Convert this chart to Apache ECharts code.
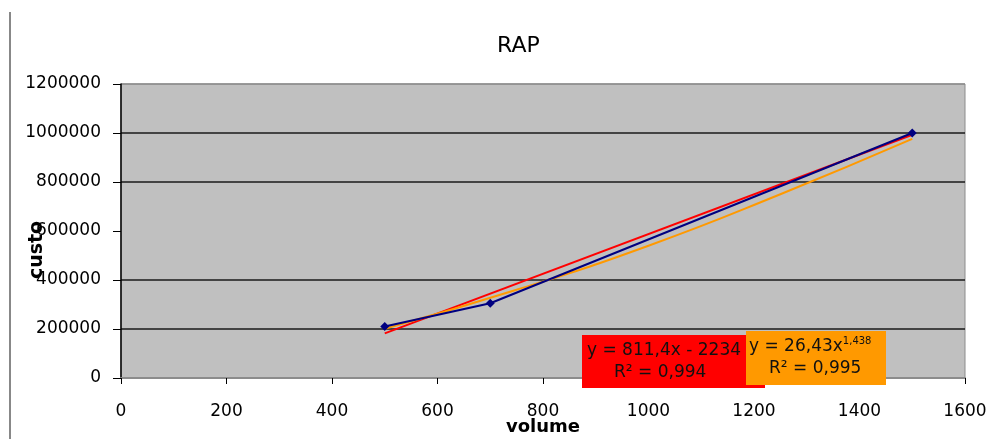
<!DOCTYPE html>
<html>
<head>
<meta charset="utf-8">
<script src="https://cdn.jsdelivr.net/npm/echarts@6/dist/echarts.min.js"></script>
<style>
  html, body { margin: 0; padding: 0; background: #fff; }
  #rap { width: 989px; height: 439px; }
</style>
</head>
<body>
<div id="rap"></div>
<script>
  // dados observados
  var volume = [500, 700, 1500];
  var custo = [210000, 305000, 1000000];
  // tendência linear (y = 811,4x - 223400)
  var linX = [500, 1500];
  var linY = [182000, 993000];
  // tendência potência (y = 26,43x^1,438)
  var powX = [500, 750, 1000, 1250, 1500];
  var powY = [201000, 360000, 540000, 750000, 976000];

  function pairs(xs, ys) {
    var out = [];
    xs.forEach(function (x, i) { out.push([x, ys[i]]); });
    return out;
  }

  var chart = echarts.init(document.getElementById('rap'));
  var font = 'DejaVu Sans, sans-serif';

  chart.setOption({
    animation: false,
    textStyle: { fontFamily: font },
    title: {
      text: 'RAP',
      left: 492,
      top: 30,
      textStyle: { fontFamily: font, fontSize: 22, fontWeight: 'normal', color: '#000' }
    },
    grid: {
      left: 121, right: 24, top: 84, bottom: 61,
      containLabel: false,
      outerBoundsMode: 'none',
      show: true,
      backgroundColor: '#c0c0c0',
      borderColor: '#8c8c8c',
      borderWidth: 1
    },
    xAxis: {
      type: 'value',
      min: 0, max: 1600, interval: 200,
      name: 'volume',
      nameLocation: 'middle',
      nameGap: 40,
      nameMoveOverlap: false,
      nameTextStyle: { fontFamily: font, fontSize: 18, fontWeight: 'bold', color: '#000' },
      axisLine: { show: true, lineStyle: { color: '#8c8c8c', width: 2 } },
      axisTick: { show: true, length: 6, lineStyle: { color: '#000' } },
      axisLabel: { fontSize: 17, color: '#000', margin: 25, formatter: function (v) { return String(v); } },
      splitLine: { show: false }
    },
    yAxis: {
      type: 'value',
      min: 0, max: 1200000, interval: 200000,
      name: 'custo',
      nameLocation: 'middle',
      nameGap: 74,
      nameRotate: 90,
      nameMoveOverlap: false,
      nameTextStyle: { fontFamily: font, fontSize: 19, fontWeight: 'bold', color: '#000', padding: [0, 38, 0, 0] },
      axisLine: { show: true, lineStyle: { color: '#000', width: 1.5 } },
      axisTick: { show: true, length: 8, lineStyle: { color: '#000' } },
      axisLabel: { fontSize: 17, color: '#000', margin: 20, formatter: function (v) { return String(v); } },
      splitLine: {
        show: true,
        lineStyle: {
          width: 1.5,
          color: ['rgba(0,0,0,0)', '#1a1a1a', '#1a1a1a', 'rgba(0,0,0,0)', '#1a1a1a', '#1a1a1a', '#8c8c8c']
        }
      }
    },
    graphic: [
      { type: 'line', shape: { x1: 10, y1: 12, x2: 10, y2: 439 }, style: { stroke: '#888', lineWidth: 2 } },
      {
        type: 'rect', z: 100,
        shape: { x: 582, y: 335, width: 183, height: 53 },
        style: { fill: '#ff0000' }
      },
      {
        type: 'text', z: 101, x: 587, y: 340,
        style: {
          text: 'y = 811,4x - 2234\n     R² = 0,994',
          font: '17px ' + font, fill: '#111', lineHeight: 22
        }
      },
      {
        type: 'rect', z: 102,
        shape: { x: 746, y: 331, width: 140, height: 54 },
        style: { fill: '#ff9900' }
      },
      {
        type: 'text', z: 103, x: 749, y: 336,
        style: {
          text: '{a|y = 26,43x}{s|1,438}\n{b|R² = 0,995}',
          fill: '#111', lineHeight: 22,
          rich: {
            a: { font: '17px ' + font, fill: '#111', lineHeight: 22 },
            s: { font: '10px ' + font, fill: '#111', verticalAlign: 'top', padding: [0, 0, 10, 0] },
            b: { font: '17px ' + font, fill: '#111', lineHeight: 22, padding: [0, 0, 0, 20] }
          }
        }
      }
    ],
    series: [
      {
        name: 'custo',
        type: 'line',
        data: pairs(volume, custo),
        z: 4,
        symbol: 'diamond',
        symbolSize: 9,
        itemStyle: { color: '#000080' },
        lineStyle: { color: '#000080', width: 2 }
      },
      {
        name: 'Linear',
        type: 'line',
        data: pairs(linX, linY),
        z: 3,
        symbol: 'none',
        lineStyle: { color: '#ff0000', width: 2 }
      },
      {
        name: 'Potência',
        type: 'line',
        data: pairs(powX, powY),
        z: 3,
        smooth: true,
        symbol: 'none',
        lineStyle: { color: '#ff9900', width: 2 }
      }
    ]
  });
</script>
</body>
</html>
